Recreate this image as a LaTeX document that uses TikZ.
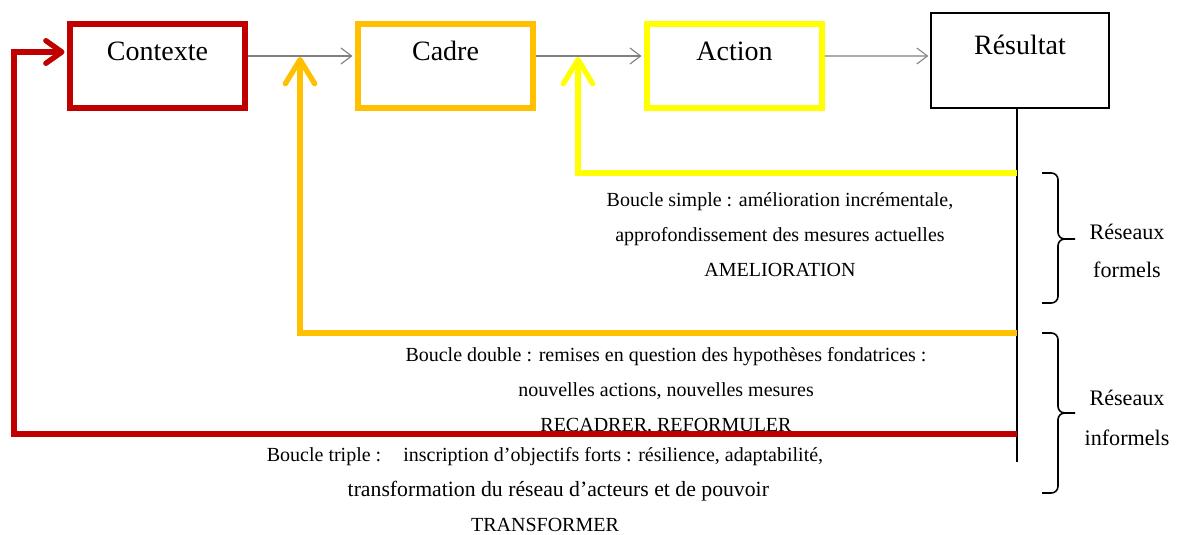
\documentclass[tikz,border=0pt]{standalone}
\usepackage{fontspec}
\setmainfont{Liberation Serif}
\usetikzlibrary{arrows.meta}

\definecolor{rouge}{HTML}{C00000}
\definecolor{ambre}{HTML}{FFC000}
\definecolor{jaune}{HTML}{FFFF00}

\tikzset{
	etape/.style={draw, line width=4.5pt, minimum width=131pt, inner sep=0pt,
		text height=27.75pt, text depth=35.25pt, font=\fontsize{21}{25}\selectfont},
	fleche/.style={draw=gray, line width=0.8pt, -{Straight Barb[length=8pt,width=12pt]}},
	boucle/.style={line width=4pt, -{Straight Barb[length=18pt,width=22pt,round]}},
	texte/.style={align=center, inner sep=0pt, font=\fontsize{15}{26.25}\selectfont},
	accolade/.style={line width=1.2pt, rounded corners=5pt},
}

\begin{document}
\begin{tikzpicture}[x=0.75pt,y=-0.75pt]
		
		\useasboundingbox (0,0) rectangle (1178,535);
		
		% les quatre etapes
		\node[etape, draw=rouge] (ctx) at (157.5,66) {Contexte};
		\node[etape, draw=ambre] (cad) at (445.5,66) {Cadre};
		\node[etape, draw=jaune] (act) at (734.5,66) {Action};
		\node[etape, draw=black, line width=2pt, minimum width=133.5pt,
			text height=31.5pt, text depth=39.75pt] (res) at (1020,60.5) {Résultat};
		
		\draw[fleche, shorten >=2pt] ([yshift=7.5pt]ctx.east) -- ([yshift=7.5pt]cad.west);
		\draw[fleche, shorten >=2pt] ([yshift=7.5pt]cad.east) -- ([yshift=7.5pt]act.west);
		\draw[fleche, shorten >=1pt] ([yshift=7.5pt]act.east) -- ([yshift=3.4pt]res.west);
		
		% tronc vertical sous le resultat
		\coordinate (pied) at (1017,462);
		\draw[line width=1.5pt] (res.south -| pied) -- (pied);
		
		% textes des boucles
		\node[texte] (simple) at (780,235) {Boucle simple : amélioration incrémentale,\\
			approfondissement des mesures actuelles\\ AMELIORATION};
		\node[texte] (double) at (666,391) {Boucle double : remises en question des hypothèses fondatrices :\\
			nouvelles actions, nouvelles mesures\\ RECADRER, REFORMULER};
		\node[texte] (triple) at (545,490) {Boucle triple :\hspace{1.1em}inscription d’objectifs forts : résilience, adaptabilité,\\
			\hspace*{20pt}{\fontsize{16.3}{26.25}\selectfont transformation du réseau d’acteurs et de pouvoir}\\ TRANSFORMER};
		
		% les boucles
		\coordinate (s1) at (1017,173);
		\coordinate (s2) at (1017,333);
		\coordinate (s3) at (1017,434);
		\coordinate (c1) at (578,57);
		\coordinate (c2) at (300,57);
		\coordinate (c3) at (14,52);
		
		\draw[boucle, jaune] (s1) -| (c1);
		\draw[boucle, ambre] (s2) -| (c2);
		\draw[boucle, rouge, shorten >=2pt, -{Straight Barb[length=12pt,width=17pt,round]}]
			(s3) -| (c3) -- ([yshift=10.5pt]ctx.west);
		
		% accolades
		\foreach \h/\m/\b in {173/239/303, 333/413/493}
		\draw[accolade] (1042,\h) -| (1058,\m) -- (1075,\m) (1075,\m) -- (1058,\m) |- (1042,\b);
		\node[texte, font=\fontsize{16.6}{29}\selectfont] (formel) at (1127,251) {Réseaux\\ formels};
		\node[texte, font=\fontsize{16.6}{30}\selectfont] (informel) at (1127,418) {Réseaux\\ informels};
		
\end{tikzpicture}
\end{document}
